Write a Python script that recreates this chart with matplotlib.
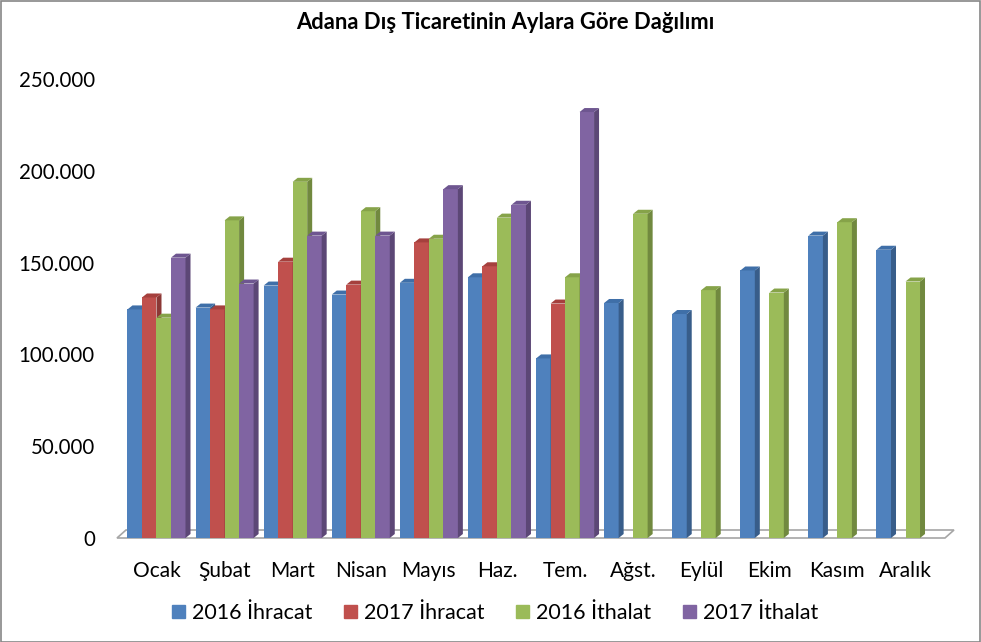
import matplotlib
matplotlib.use("Agg")
import matplotlib.pyplot as plt
from matplotlib.patches import Polygon, Rectangle
import numpy as np

plt.rcParams['font.family'] = ['Lato', 'DejaVu Sans']

months = ["Ocak", "Şubat", "Mart", "Nisan", "Mayıs", "Haz.", "Tem.",
          "Ağst.", "Eylül", "Ekim", "Kasım", "Aralık"]
series_names = ["2016 İhracat", "2017 İhracat", "2016 İthalat", "2017 İthalat"]
ihracat_2016 = [124500, 125500, 137500, 132600, 139000, 142000, 97800, 128000, 122000, 145700, 164700, 157000]
ihracat_2017 = [131000, 124500, 150500, 138000, 161000, 148000, 127700, 0, 0, 0, 0, 0]
ithalat_2016 = [120000, 173000, 194000, 178000, 163000, 174500, 142000, 176600, 135000, 133700, 172000, 139700]
ithalat_2017 = [152700, 138600, 164700, 164700, 190000, 181500, 232000, 0, 0, 0, 0, 0]
yticks = [0, 50000, 100000, 150000, 200000, 250000]
ytick_labels = ["0", "50.000", "100.000", "150.000", "200.000", "250.000"]

front = ["#4F81BD", "#C0504D", "#9BBB59", "#8064A2"]
side = ["#385D8A", "#8C3836", "#71893F", "#5C4776"]
top = ["#3F6FA8", "#A5403D", "#86A349", "#6E5690"]

W, H = 981, 642
fig = plt.figure(figsize=(W / 100, H / 100), dpi=100)
ax_l, ax_r, ax_b, ax_t = 117, 945, 538, 79
ax = fig.add_axes([ax_l / W, (H - ax_b) / H, (ax_r - ax_l) / W, (ax_b - ax_t) / H])
xlim = (-0.58, 11.58)
ylim = (0, 250000)
ax.set_xlim(*xlim)
ax.set_ylim(*ylim)
px_x = (xlim[1] - xlim[0]) / (ax_r - ax_l)
px_y = (ylim[1] - ylim[0]) / (ax_b - ax_t)

data = [ihracat_2016, ihracat_2017, ithalat_2016, ithalat_2017]
x = np.arange(len(months))
bw = 0.213
dx, dy = 5 * px_x, 4 * px_y

# floor
fdx, fdy = 9 * px_x, 8 * px_y
floor = Polygon([(xlim[0], 0), (xlim[1], 0), (xlim[1] + fdx, fdy), (xlim[0] + fdx, fdy)],
                closed=True, facecolor="white", edgecolor="#A6A6A6", lw=1.2,
                clip_on=False, zorder=1)
ax.add_patch(floor)

z = 2
for i in range(len(months)):
    for s in range(4):
        v = data[s][i]
        x0 = x[i] - 2 * bw + s * bw
        if v <= 0:
            continue
        ax.bar(x0, v, width=bw, align="edge", color=front[s], zorder=z, linewidth=0)
        ax.add_patch(Polygon([(x0 + bw, 0), (x0 + bw + dx, dy), (x0 + bw + dx, v + dy), (x0 + bw, v)],
                             closed=True, facecolor=side[s], edgecolor="none", zorder=z, clip_on=False))
        ax.add_patch(Polygon([(x0, v), (x0 + dx, v + dy), (x0 + bw + dx, v + dy), (x0 + bw, v)],
                             closed=True, facecolor=top[s], edgecolor="none", zorder=z, clip_on=False))
        z += 1

for sp in ax.spines.values():
    sp.set_visible(False)
ax.set_xticks(x)
ax.set_xticklabels(months, fontsize=15)
ax.set_yticks(yticks)
ax.set_yticklabels(ytick_labels, fontsize=14.8)
ax.tick_params(axis="x", length=0, pad=16.5)
ax.tick_params(axis="y", length=0, pad=16)
ax.patch.set_visible(False)

fig.text(505 / W, 1 - 22.5 / H, "Adana Dış Ticaretinin Aylara Göre Dağılımı",
         ha="center", va="center", fontsize=15.8, fontweight="bold")

handles = [Rectangle((0, 0), 1, 1, color=c) for c in front]
fig.legend(handles, series_names, loc="center", bbox_to_anchor=(495 / W, 1 - 613 / H),
           ncol=4, frameon=False, fontsize=15.5, handlelength=0.6, handleheight=0.6,
           handletextpad=0.3, columnspacing=1.5)

fig.add_artist(Rectangle((0.5 / W, 0.5 / H), 1 - 1.5 / W, 1 - 1.5 / H, transform=fig.transFigure,
                         fill=False, edgecolor="#868686", lw=1.2))

fig.savefig("out.png", dpi=100)
